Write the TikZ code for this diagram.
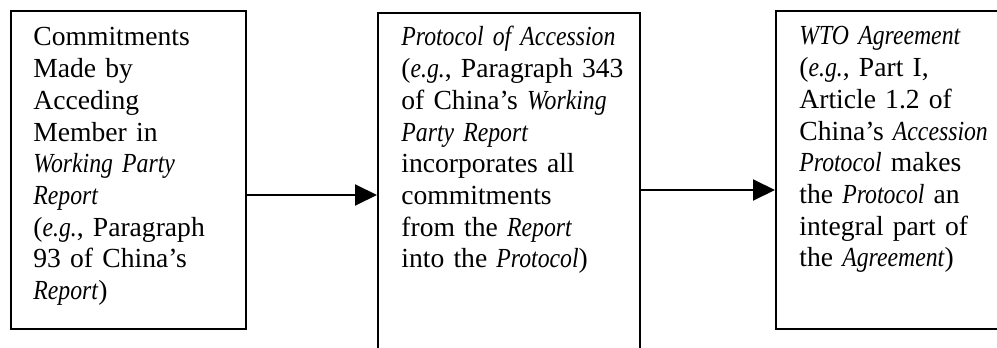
\documentclass[tikz,border=0pt]{standalone}
\usepackage{fontspec}
\setmainfont{Liberation Serif}[ItalicFeatures={FakeStretch=0.86}]
\usetikzlibrary{arrows.meta}
\begin{document}
\begin{tikzpicture}[x=0.5pt,y=-0.5pt,
  box/.style={draw, line width=1.2pt, inner sep=0pt, anchor=north west},
  txt/.style={anchor=base west, inner sep=0pt, align=left, text width=200pt,
    font=\fontsize{13.8}{15.85}\selectfont},
  conn/.style={line width=1pt, -{Triangle[length=11pt,width=10.5pt]}}]
\useasboundingbox (0,0) rectangle (997,348);
\clip (0,0) rectangle (997,348);
\node[box, minimum width=117.5pt, minimum height=159pt] (b1) at (10,10) {};
\node[box, minimum width=131pt, minimum height=204pt] (b2) at (377,12) {};
\node[box, minimum width=122.5pt, minimum height=159pt] (b3) at (775,10) {};
\node[txt] (t1) at (33,46) {Commitments\\Made by\\Acceding\\Member in\\\textit{Working Party}\\\textit{Report}\\(\textit{e.g.}, Paragraph\\93 of China’s\\\textit{Report})};
\node[txt] (t2) at (401,46) {\textit{Protocol of Accession}\\(\textit{e.g.}, Paragraph 343\\of China’s \textit{Working}\\\textit{Party Report}\\incorporates all\\commitments\\from the \textit{Report}\\into the \textit{Protocol})};
\node[txt] (t3) at (799,45) {\textit{WTO Agreement}\\(\textit{e.g.}, Part I,\\Article 1.2 of\\China’s \textit{Accession}\\\textit{Protocol} makes\\the \textit{Protocol} an\\integral part of\\the \textit{Agreement})};
\coordinate (y1) at (0,195);
\coordinate (y2) at (0,190);
\draw[conn] (b1.east |- y1) -- (b2.west |- y1);
\draw[conn] (b2.east |- y2) -- (b3.west |- y2);
\end{tikzpicture}
\end{document}
